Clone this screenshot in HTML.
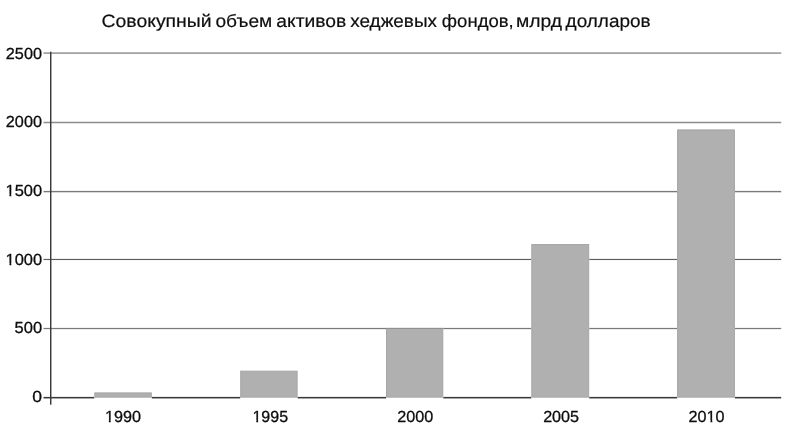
<!DOCTYPE html>
<html lang="ru">
<head>
<meta charset="utf-8">
<title>Совокупный объем активов хеджевых фондов</title>
<style>
html,body{margin:0;padding:0;background:#fff;}
body{width:790px;height:431px;overflow:hidden;}
svg{display:block;}
text{font-family:"Liberation Sans","DejaVu Sans",sans-serif;fill:#0e0e0e;stroke:#0e0e0e;stroke-linejoin:round;text-rendering:geometricPrecision;}
.t{font-size:17.8px;stroke-width:0.18;}
.l{font-size:16px;stroke-width:0.3;}
</style>
</head>
<body>
<svg width="790" height="431" viewBox="0 0 790 431">
<rect width="790" height="431" fill="#fff"/>
<rect x="43.5" y="52.35" width="737.7" height="1.5" fill="#939393"/>
<rect x="43.5" y="121.75" width="737.7" height="1.5" fill="#8c8c8c"/>
<rect x="43.5" y="190.9" width="737.7" height="1.4" fill="#7a7a7a"/>
<rect x="43.5" y="258.9" width="737.7" height="1.15" fill="#5e5e5e"/>
<rect x="43.5" y="327.9" width="737.7" height="1.25" fill="#7a7a7a"/>
<g fill="#3a3a3a">
<rect x="50" y="51.7" width="1.45" height="353"/>
<rect x="43.5" y="396.9" width="737.7" height="1.55"/>
</g>
<g fill="#fff">
<rect x="94.3" y="392.40" width="57.5" height="6.60"/>
<rect x="240.2" y="370.65" width="57.4" height="28.35"/>
<rect x="386.0" y="328.00" width="57.3" height="71.00"/>
<rect x="531.3" y="244.05" width="57.9" height="154.95"/>
<rect x="677.1" y="129.40" width="57.8" height="269.60"/>
</g>
<g fill="#b0b0b0" stroke="#a6a6a6" stroke-width="1">
<rect x="94.80" y="392.90" width="56.50" height="4.25"/>
<rect x="240.70" y="371.15" width="56.40" height="26.00"/>
<rect x="386.50" y="328.50" width="56.30" height="68.65"/>
<rect x="531.80" y="244.55" width="56.90" height="152.60"/>
<rect x="677.60" y="129.90" width="56.80" height="267.25"/>
</g>
<rect x="386" y="327.95" width="57.3" height="1.05" fill="#909090"/>
<text class="l" x="5.86" y="59.00" textLength="36.05" lengthAdjust="spacingAndGlyphs">2500</text>
<text class="l" x="5.86" y="127.00" textLength="36.05" lengthAdjust="spacingAndGlyphs">2000</text>
<text class="l" x="5.51" y="196.00" textLength="36.57" lengthAdjust="spacingAndGlyphs">1500</text>
<text class="l" x="5.51" y="265.00" textLength="36.57" lengthAdjust="spacingAndGlyphs">1000</text>
<text class="l" x="14.64" y="333.00" textLength="27.46" lengthAdjust="spacingAndGlyphs">500</text>
<text class="l" x="32.25" y="402.00" textLength="9.76" lengthAdjust="spacingAndGlyphs">0</text>
<text class="l" x="104.97" y="422.00" textLength="36.06" lengthAdjust="spacingAndGlyphs">1990</text>
<text class="l" x="252.48" y="422.00" textLength="35.55" lengthAdjust="spacingAndGlyphs">1995</text>
<text class="l" x="397.28" y="422.00" textLength="36.02" lengthAdjust="spacingAndGlyphs">2000</text>
<text class="l" x="543.15" y="422.00" textLength="35.92" lengthAdjust="spacingAndGlyphs">2005</text>
<text class="l" x="688.64" y="422.00" textLength="35.94" lengthAdjust="spacingAndGlyphs">2010</text>
<text class="t" y="27"><tspan x="101.46" textLength="110.21" lengthAdjust="spacingAndGlyphs">Совокупный</tspan> <tspan x="215.47" textLength="56.73" lengthAdjust="spacingAndGlyphs">объем</tspan> <tspan x="276.32" textLength="70.01" lengthAdjust="spacingAndGlyphs">активов</tspan> <tspan x="350.17" textLength="86.91" lengthAdjust="spacingAndGlyphs">хеджевых</tspan> <tspan x="441.86" textLength="71.89" lengthAdjust="spacingAndGlyphs">фондов,</tspan> <tspan x="516.00" textLength="46.10" lengthAdjust="spacingAndGlyphs">млрд</tspan> <tspan x="565.59" textLength="85.04" lengthAdjust="spacingAndGlyphs">долларов</tspan></text>
<g fill="#fff">
<rect x="5.56" y="193.95" width="3.88" height="3.30"/>
<rect x="11.30" y="193.95" width="3.46" height="3.30"/>
<rect x="5.56" y="262.95" width="3.88" height="3.30"/>
<rect x="11.30" y="262.95" width="3.46" height="3.30"/>
<rect x="105.01" y="419.95" width="3.84" height="3.30"/>
<rect x="110.68" y="419.95" width="3.42" height="3.30"/>
<rect x="252.50" y="419.95" width="3.80" height="3.30"/>
<rect x="258.12" y="419.95" width="3.38" height="3.30"/>
<rect x="706.64" y="419.95" width="3.83" height="3.30"/>
<rect x="712.31" y="419.95" width="3.41" height="3.30"/>
</g>
</svg>
</body>
</html>
